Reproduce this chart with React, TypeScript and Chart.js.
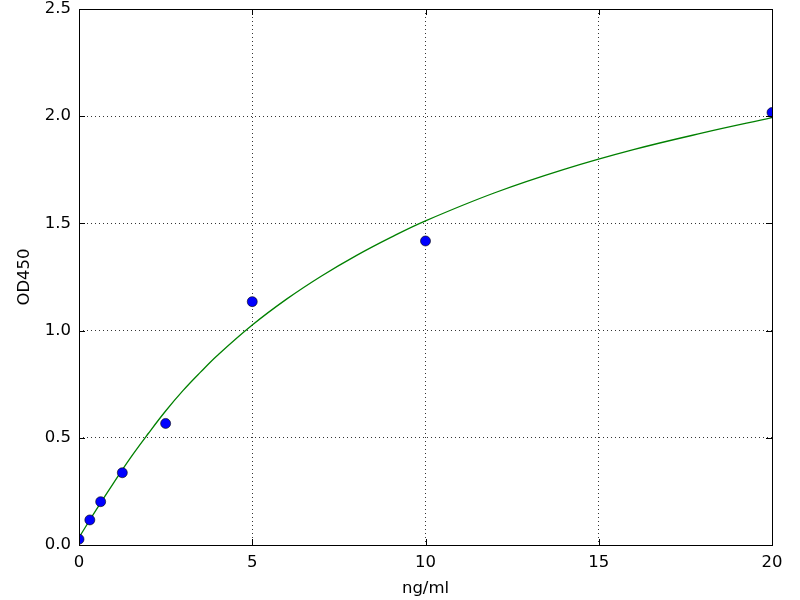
import React, { useEffect, useRef } from "react";
import { Chart, registerables } from "chart.js";

Chart.register(...registerables);

// Measured standards
const concentrations = [0, 0.3125, 0.625, 1.25, 2.5, 5, 10, 20];
const odValues = [0.027, 0.117, 0.202, 0.337, 0.567, 1.135, 1.418, 2.017];

// Fitted curve
const curveX = [0, 0.5, 1, 1.5, 2, 2.5, 3, 3.5, 4, 5, 6, 7, 8, 9, 10, 12, 14, 16, 18, 20];
const curveY = [0.035, 0.165, 0.29, 0.41, 0.52, 0.625, 0.72, 0.805, 0.885, 1.026, 1.148, 1.255, 1.35, 1.435, 1.512, 1.643, 1.752, 1.844, 1.922, 1.993];

const xTicks = [0, 5, 10, 15, 20];
const yTicks = [0, 0.5, 1.0, 1.5, 2.0, 2.5];

const FONT = "DejaVu Sans";

const frameTicks = {
  id: "frameTicks",
  afterDraw(chart: any) {
    const { ctx, chartArea } = chart;
    const { left, right, top, bottom } = chartArea;
    const xs = chart.scales.x;
    const ys = chart.scales.y;
    const L = 6;
    ctx.save();
    ctx.strokeStyle = "#000";
    ctx.lineWidth = 1;
    ctx.beginPath();
    xTicks.forEach((v) => {
      const px = Math.round(xs.getPixelForValue(v)) + 0.5;
      ctx.moveTo(px, bottom);
      ctx.lineTo(px, bottom - L);
      ctx.moveTo(px, top);
      ctx.lineTo(px, top + L);
    });
    yTicks.forEach((v) => {
      const py = Math.round(ys.getPixelForValue(v)) + 0.5;
      ctx.moveTo(left, py);
      ctx.lineTo(left + L, py);
      ctx.moveTo(right, py);
      ctx.lineTo(right - L, py);
    });
    ctx.stroke();
    ctx.strokeRect(Math.round(left) + 0.5, Math.round(top) + 0.5, Math.round(right - left), Math.round(bottom - top));
    ctx.restore();
  },
};

export default function App() {
  const ref = useRef<HTMLCanvasElement | null>(null);
  useEffect(() => {
    document.body.style.margin = "0";
    const canvas = ref.current;
    if (!canvas) return;
    const chart = new Chart(canvas, {
      type: "scatter",
      data: {
        datasets: [
          {
            type: "scatter",
            data: concentrations.map((x, i) => ({ x, y: odValues[i] })),
            backgroundColor: "#0000ff",
            borderColor: "#000000",
            borderWidth: 0.6,
            pointRadius: 5,
            pointHoverRadius: 5,
            clip: 0,
          } as any,
          {
            type: "line",
            data: curveX.map((x, i) => ({ x, y: curveY[i] })),
            borderColor: "#008000",
            borderWidth: 1.3,
            pointRadius: 0,
            fill: false,
            tension: 0.4,
            clip: 0,
          } as any,
        ],
      },
      options: {
        responsive: false,
        animation: false,
        events: [],
        layout: { padding: { left: 0, right: 28, top: 9, bottom: 0 } },
        plugins: { legend: { display: false }, tooltip: { enabled: false } },
        scales: {
          x: {
            type: "linear",
            min: 0,
            max: 20,
            afterFit: (s: any) => {
              s.height = 55;
              s.paddingLeft = 0;
              s.paddingRight = 0;
            },
            afterBuildTicks: (s: any) => {
              s.ticks = xTicks.map((v) => ({ value: v }));
            },
            ticks: {
              color: "#000",
              font: { family: FONT, size: 16.5 },
              padding: 8,
              maxRotation: 0,
              callback: (v: any) => String(v),
            },
            grid: {
              color: "#000",
              lineWidth: 0.8,
              drawTicks: false,
              tickLength: 0,
            },
            border: { display: false, dash: [1, 3] },
            title: {
              display: true,
              text: "ng/ml",
              color: "#000",
              font: { family: FONT, size: 16.5 },
              padding: { top: 0, bottom: 1 },
            },
          },
          y: {
            type: "linear",
            min: 0,
            max: 2.5,
            afterFit: (s: any) => {
              s.width = 79;
              s.paddingTop = 0;
              s.paddingBottom = 0;
            },
            afterBuildTicks: (s: any) => {
              s.ticks = yTicks.map((v) => ({ value: v }));
            },
            ticks: {
              color: "#000",
              font: { family: FONT, size: 16.5 },
              padding: 8,
              callback: (v: any) => Number(v).toFixed(1),
            },
            grid: {
              color: "#000",
              lineWidth: 0.8,
              drawTicks: false,
              tickLength: 0,
            },
            border: { display: false, dash: [1, 3] },
            title: {
              display: true,
              text: "OD450",
              color: "#000",
              font: { family: FONT, size: 16.5 },
              padding: { top: 15, bottom: 0 },
            },
          },
        },
      } as any,
      plugins: [frameTicks],
    });
    return () => chart.destroy();
  }, []);
  return (
    <div style={{ position: "absolute", left: 0, top: 0, width: 800, height: 600, background: "#fff" }}>
      <canvas ref={ref} width={800} height={600} />
    </div>
  );
}
